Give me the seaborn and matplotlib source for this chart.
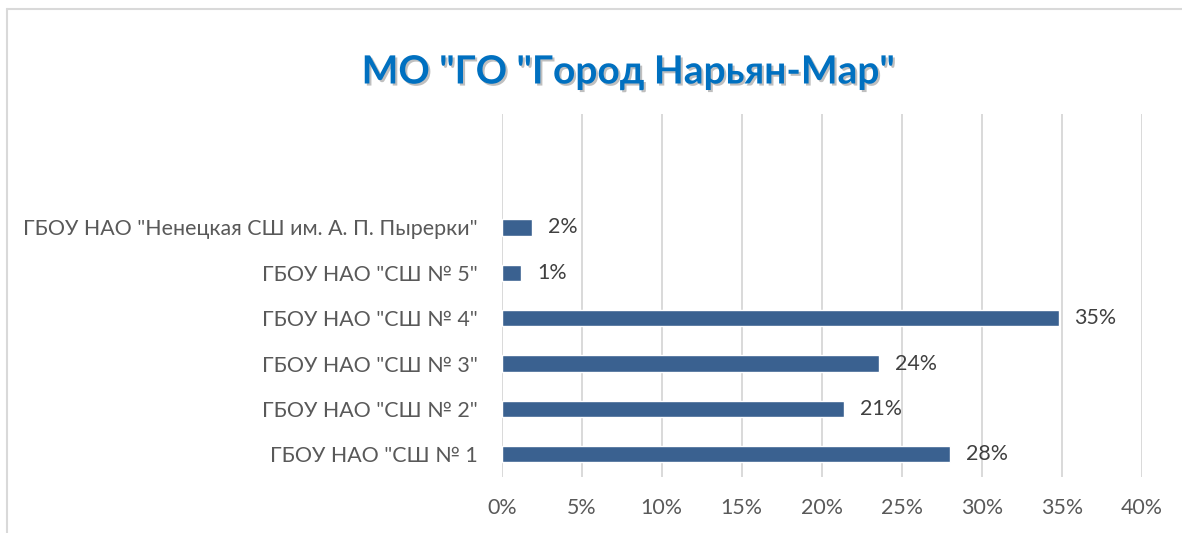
import matplotlib
matplotlib.use("Agg")
import matplotlib.pyplot as plt
import matplotlib.patheffects as pe
from matplotlib.lines import Line2D
import seaborn as sns
import pandas as pd

categories = [
    'ГБОУ НАО "Ненецкая СШ им. А. П. Пырерки"',
    'ГБОУ НАО "СШ № 5"',
    'ГБОУ НАО "СШ № 4"',
    'ГБОУ НАО "СШ № 3"',
    'ГБОУ НАО "СШ № 2"',
    'ГБОУ НАО "СШ № 1',
]
values = [1.9, 1.2, 34.8, 23.6, 21.4, 28.0]
labels = ["2%", "1%", "35%", "24%", "21%", "28%"]
xticks = [0, 5, 10, 15, 20, 25, 30, 35, 40]
xtick_labels = ["0%", "5%", "10%", "15%", "20%", "25%", "30%", "35%", "40%"]
title = 'МО "ГО "Город Нарьян-Мар"'

sns.set_theme(style="white")
plt.rcParams['font.family'] = ['Lato', 'DejaVu Sans']

df = pd.DataFrame({"cat": categories, "val": values})

W, H = 1182, 533
fig = plt.figure(figsize=(W / 100, H / 100), dpi=100)
ax = fig.add_axes([501.7 / W, 1 - 477 / H, (1141.7 - 501.7) / W, (477 - 114) / H])

sns.barplot(data=df, x="val", y="cat", order=categories, color="#3A6190",
            width=0.36, ax=ax, orient="h", saturation=1)

ax.set_xlim(0, 40)
ax.set_ylim(5.5, -2.5)
ax.set_xticks(xticks)
ax.set_xticklabels(xtick_labels)
ax.set_xlabel("")
ax.set_ylabel("")
ax.grid(axis="x", color="#D9D9D9", linewidth=1.4)
ax.set_axisbelow(True)
for s in ax.spines.values():
    s.set_visible(False)
ax.tick_params(axis="both", length=0, labelsize=15.4, labelcolor="#595959")
ax.tick_params(axis="x", pad=15)
ax.tick_params(axis="y", pad=17)

for i, (v, lab) in enumerate(zip(values, labels)):
    ax.annotate(lab, (v, i), xytext=(16, 0), textcoords="offset pixels",
                ha="left", va="center", fontsize=15.4, color="#404040")

fig.text(628 / W, 1 - 72 / H, title, ha="center", va="center",
         fontsize=28, fontweight="bold", color="#0070C0",
         path_effects=[pe.withSimplePatchShadow(offset=(1.5, -1.5), shadow_rgbFace="#000000", alpha=0.25)])

fig.add_artist(Line2D([7 / W, 1], [1 - 9 / H, 1 - 9 / H], transform=fig.transFigure,
                      color="#D9D9D9", linewidth=1.5))
fig.add_artist(Line2D([7 / W, 7 / W], [0, 1 - 9 / H], transform=fig.transFigure,
                      color="#D9D9D9", linewidth=1.5))

fig.savefig("out.png", dpi=100)
